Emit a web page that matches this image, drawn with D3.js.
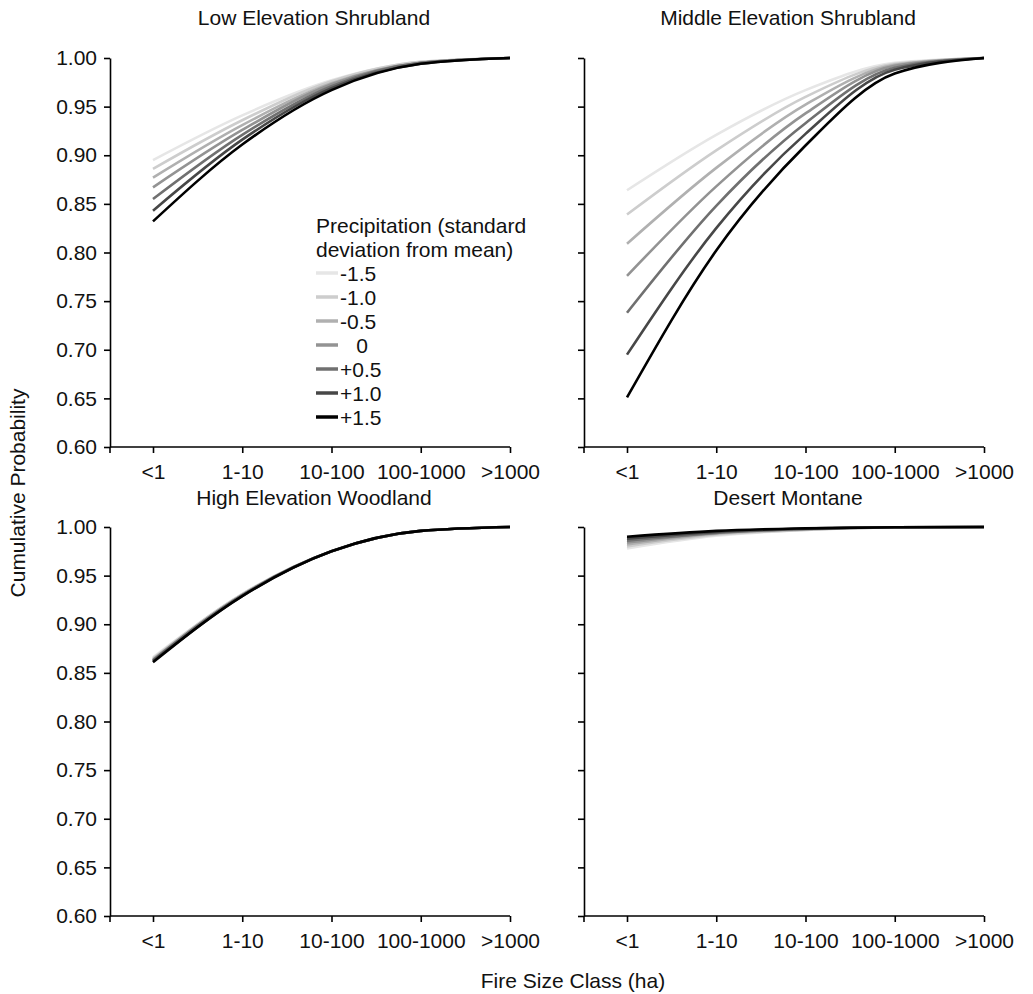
<!DOCTYPE html>
<html>
<head>
<meta charset="utf-8">
<script src="https://cdn.jsdelivr.net/npm/d3@7"></script>
<style>
  body { margin: 0; background: #fff; }
  text { font-family: Arial, 'Liberation Sans', sans-serif; fill: #111; }
</style>
</head>
<body>
<div id="chart"></div>
<script>
// categories on the x axis
const sizeClasses = ['<1', '1-10', '10-100', '100-1000', '>1000']
// precipitation levels (sd from mean), lightest to darkest
const precipLevels = ['-1.5', '-1.0', '-0.5', '0', '+0.5', '+1.0', '+1.5']
const legendLabels = ['-1.5', '-1.0', '-0.5', '\u2002 0', '+0.5', '+1.0', '+1.5']
const yTicks = [0.6, 0.65, 0.7, 0.75, 0.8, 0.85, 0.9, 0.95, 1.0]

// cumulative probability, one row per precip level
const lowShrubland = [
  [0.895, 0.941, 0.977, 0.996, 1.0],
  [0.886, 0.936, 0.976, 0.996, 1.0],
  [0.877, 0.931, 0.974, 0.995, 1.0],
  [0.867, 0.926, 0.973, 0.995, 1.0],
  [0.855, 0.921, 0.971, 0.995, 1.0],
  [0.843, 0.916, 0.969, 0.994, 1.0],
  [0.832, 0.911, 0.967, 0.994, 1.0]
]
const midShrubland = [
  [0.864, 0.921, 0.967, 0.995, 1.0],
  [0.839, 0.905, 0.960, 0.994, 1.0],
  [0.809, 0.887, 0.952, 0.993, 1.0],
  [0.776, 0.868, 0.943, 0.992, 1.0],
  [0.738, 0.848, 0.933, 0.990, 1.0],
  [0.695, 0.825, 0.922, 0.988, 1.0],
  [0.651, 0.802, 0.910, 0.984, 1.0]
]
const highWoodland = [
  [0.866, 0.931, 0.975, 0.996, 1.0],
  [0.865, 0.931, 0.975, 0.996, 1.0],
  [0.864, 0.930, 0.975, 0.996, 1.0],
  [0.863, 0.930, 0.975, 0.996, 1.0],
  [0.863, 0.930, 0.975, 0.996, 1.0],
  [0.862, 0.929, 0.975, 0.996, 1.0],
  [0.861, 0.929, 0.975, 0.996, 1.0]
]
const desertMontane = [
  [0.978, 0.991, 0.997, 0.9995, 1.0],
  [0.980, 0.992, 0.997, 0.9995, 1.0],
  [0.982, 0.993, 0.9975, 0.9996, 1.0],
  [0.984, 0.994, 0.998, 0.9997, 1.0],
  [0.986, 0.994, 0.998, 0.9997, 1.0],
  [0.988, 0.995, 0.9985, 0.9998, 1.0],
  [0.990, 0.996, 0.9986, 0.9998, 1.0]
]

const panels = [
  { title: 'Low Elevation Shrubland', values: lowShrubland, left: 110, top: 58, titleY: 25, labels: true },
  { title: 'Middle Elevation Shrubland', values: midShrubland, left: 584, top: 58, titleY: 25, labels: false },
  { title: 'High Elevation Woodland', values: highWoodland, left: 110, top: 527, titleY: 505, labels: true },
  { title: 'Desert Montane', values: desertMontane, left: 584, top: 527, titleY: 505, labels: false }
]

const width = 400
const height = 389

const svg = d3
  .select('#chart')
  .append('svg')
  .attr('width', 1033)
  .attr('height', 994)

const xPositionScale = d3.scalePoint().domain(sizeClasses).range([43, width])
const yPositionScale = d3.scaleLinear().domain([0.6, 1.0]).range([height, 0])
const colorScale = d3
  .scaleOrdinal()
  .domain(precipLevels)
  .range(['#e6e6e6', '#cdcdcd', '#b0b0b0', '#939393', '#707070', '#474747', '#000000'])

const line = d3
  .line()
  .x((d, i) => xPositionScale(sizeClasses[i]))
  .y(d => yPositionScale(d))
  .curve(d3.curveMonotoneX)

panels.forEach(p => {
  const g = svg.append('g').attr('transform', `translate(${p.left},${p.top})`)

  // curves, lightest first so black sits on top
  g.selectAll('.curve')
    .data(p.values)
    .enter()
    .append('path')
    .attr('class', 'curve')
    .attr('d', d => line(d))
    .attr('fill', 'none')
    .attr('stroke', (d, i) => colorScale(precipLevels[i]))
    .attr('stroke-width', 2.6)
    .attr('stroke-linejoin', 'round')

  // y axis
  const yAxis = d3
    .axisLeft(yPositionScale)
    .tickValues(yTicks)
    .tickSize(6)
    .tickSizeOuter(0)
    .tickPadding(7)
    .tickFormat(p.labels ? d3.format('.2f') : '')
  const yg = g.append('g').call(yAxis)

  // x axis
  const xAxis = d3
    .axisBottom(xPositionScale)
    .tickSize(6)
    .tickSizeOuter(0)
    .tickPadding(11)
  const xg = g.append('g').attr('transform', `translate(0,${height})`).call(xAxis)
  xg.select('.domain').remove()
  xg.append('line')
    .attr('x1', 0)
    .attr('x2', width)
    .attr('stroke', '#000')
  xg.append('line')
    .attr('y1', 0)
    .attr('y2', 6)
    .attr('stroke', '#000')

  ;[yg, xg].forEach(a => {
    a.selectAll('line, path').attr('stroke', '#000').attr('stroke-width', 1.6)
    a.selectAll('text').attr('font-size', 21).attr('fill', '#111')
      .style('font-family', 'Arial, "Liberation Sans", sans-serif')
  })

  svg.append('text')
    .attr('x', p.left + 204)
    .attr('y', p.titleY)
    .attr('text-anchor', 'middle')
    .attr('font-size', 21)
    .text(p.title)
})

// legend inside first panel
const legend = svg.append('g').attr('transform', 'translate(316,0)')
legend.append('text').attr('x', 0).attr('y', 233).attr('font-size', 21).text('Precipitation (standard')
legend.append('text').attr('x', 0).attr('y', 257).attr('font-size', 21).text('deviation from mean)')

const rows = legend
  .selectAll('.row')
  .data(precipLevels)
  .enter()
  .append('g')
  .attr('class', 'row')
  .attr('transform', (d, i) => `translate(0,${273 + i * 24})`)

rows.append('line')
  .attr('x1', 0)
  .attr('x2', 22)
  .attr('stroke', d => colorScale(d))
  .attr('stroke-width', 3.5)

rows.append('text')
  .attr('x', 24)
  .attr('y', 7.5)
  .attr('font-size', 21)
  .style('white-space', 'pre')
  .text((d, i) => legendLabels[i])

// axis titles
svg.append('text')
  .attr('x', 573)
  .attr('y', 988)
  .attr('text-anchor', 'middle')
  .attr('font-size', 21)
  .text('Fire Size Class (ha)')

svg.append('text')
  .attr('transform', 'translate(25,493) rotate(-90)')
  .attr('text-anchor', 'middle')
  .attr('font-size', 21)
  .text('Cumulative Probability')
</script>
</body>
</html>
